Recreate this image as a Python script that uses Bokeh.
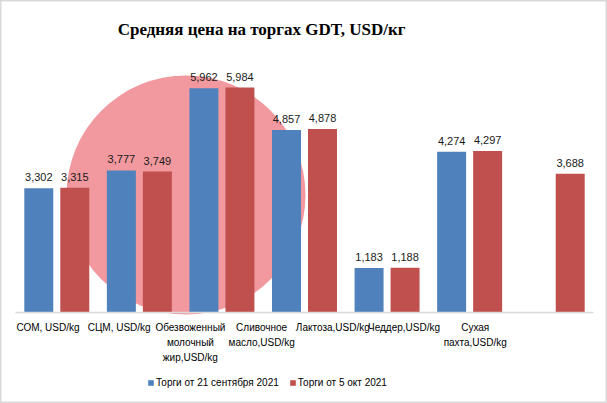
from bokeh.plotting import figure
from bokeh.models import Range1d, ColumnDataSource, Legend, LegendItem
from bokeh.core.properties import value
from bokeh.embed import file_html
from bokeh.resources import INLINE

# ---- data ----
categories = ["СОМ, USD/kg", "СЦМ, USD/kg", "Обезвоженный\nмолочный\nжир,USD/kg",
              "Сливочное\nмасло,USD/kg", "Лактоза,USD/kg", "Чеддер,USD/kg",
              "Сухая\nпахта,USD/kg"]
sep21 = [3302, 3777, 5962, 4857, 1183, 4274, None]
oct5 = [3315, 3749, 5984, 4878, 1188, 4297, 3688]
series_names = ["Торги от 21 сентября 2021", "Торги от 5 окт 2021"]
title_text = "Средняя цена на торгах GDT, USD/кг"

BLUE = "#4F81BD"
RED = "#C0504D"
n = len(categories)
OFF = 0.218
BW = 0.351
LINE_STEP = 15

p = figure(width=607, height=403, x_range=Range1d(-0.1817, 7.1696),
           y_range=Range1d(-2420, 8298), min_border=0,
           x_axis_type=None, y_axis_type=None,
           output_backend="svg", toolbar_location=None)
p.extra_x_ranges = {"lab": Range1d(-0.167, 8.358)}
p.outline_line_color = "#D9D9D9"
p.outline_line_width = 2
p.background_fill_color = "white"
p.border_fill_color = "white"

# watermark logo (circle)
p.scatter(x=[2.065], y=[3125], size=239, fill_color="#F2999F", line_color=None)

def series_source(vals, off):
    xs, ys, labs = [], [], []
    for i, v in enumerate(vals):
        if v is None:
            continue
        xs.append(i + 0.5 + off)
        ys.append(v)
        labs.append(f"{v:,}")
    return ColumnDataSource(dict(x=xs, top=ys, lab=labs))

s1 = series_source(sep21, -OFF)
s2 = series_source(oct5, OFF)
r1 = p.vbar(x="x", top="top", bottom=0, width=BW, source=s1, fill_color=BLUE, line_color=None)
r2 = p.vbar(x="x", top="top", bottom=0, width=BW, source=s2, fill_color=RED, line_color=None)

for s in (s1, s2):
    p.text(x="x", y="top", text="lab", source=s, text_align="center",
           text_baseline="alphabetic", y_offset=-11, text_color="#1a1a1a",
           text_font=value("Liberation Sans"), text_font_size="11px")

# baseline axis
p.segment(x0=[0], x1=[n], y0=[0], y1=[0], line_color="#D9D9D9", line_width=1.5)

# category labels, one row per line
lx, lt, lo = [], [], []
for i, c in enumerate(categories):
    for j, line in enumerate(c.split("\n")):
        lx.append(i + 0.5)
        lt.append(line)
        lo.append(j * LINE_STEP)
cs = ColumnDataSource(dict(x=lx, text=lt, off=lo))
p.text(x="x", y=-399, text="text", y_offset="off", source=cs, x_range_name="lab",
       text_align="center", text_baseline="middle", text_color="black",
       text_font=value("Liberation Sans"), text_font_size="10px")

# title
p.text(x=[3.5], y=[7527], text=[title_text], x_range_name="lab", text_align="center",
       text_baseline="alphabetic", text_color="black",
       text_font=value("Times New Roman, Liberation Serif, serif"),
       text_font_style="bold", text_font_size="17px")

legend = Legend(items=[LegendItem(label=series_names[0], renderers=[r1]),
                       LegendItem(label=series_names[1], renderers=[r2])],
                orientation="horizontal", location=(147, 14), glyph_width=7, glyph_height=7,
                label_standoff=2, spacing=10, padding=0, margin=0, border_line_color=None,
                background_fill_alpha=0, label_text_font="Liberation Sans",
                label_text_font_size="10px", label_height=14, label_text_color="black")
p.add_layout(legend)

open("out.html", "w").write(file_html(p, INLINE))
